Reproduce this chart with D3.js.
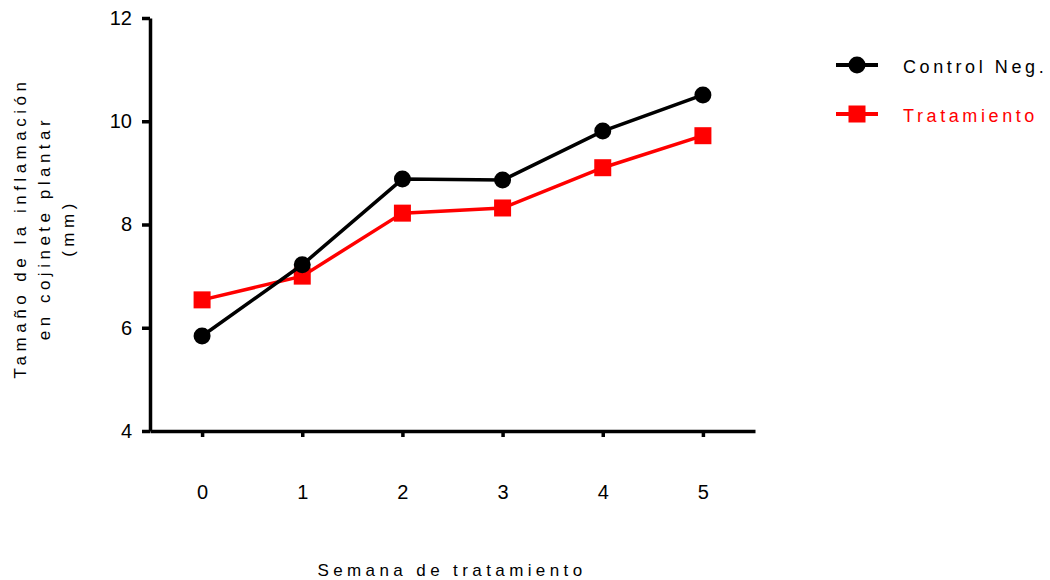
<!DOCTYPE html>
<html>
<head>
<meta charset="utf-8">
<script src="https://cdn.jsdelivr.net/npm/d3@7"></script>
<style>
  body { margin: 0; background: #fff; }
  text { font-family: "Liberation Sans", Arial, sans-serif; }
</style>
</head>
<body>
<div id="chart"></div>
<script>
// data
var weeks = [0, 1, 2, 3, 4, 5];
var controlNeg = [5.84, 7.22, 8.88, 8.86, 9.81, 10.51];
var tratamiento = [6.54, 7.0, 8.22, 8.32, 9.10, 9.72];
var yTicks = [4, 6, 8, 10, 12];
var seriesNames = ["Control Neg.", "Tratamiento"];

var margin = { left: 150, top: 18, right: 295, bottom: 149 };
var width = 1050 - margin.left - margin.right;
var height = 580 - margin.top - margin.bottom;

var svg = d3.select("#chart").append("svg")
  .attr("width", 1050)
  .attr("height", 580);

var g = svg.append("g")
  .attr("transform", "translate(" + margin.left + "," + margin.top + ")");

var x = d3.scaleLinear().domain([-0.52, 5.52]).range([0, width]);
var y = d3.scaleLinear().domain([4, 12]).range([height, 0]);

// Y axis
var yAxis = g.append("g")
  .call(d3.axisLeft(y).tickValues(yTicks).tickSize(8).tickSizeOuter(0).tickPadding(10));
yAxis.select(".domain").attr("stroke-width", 3.5);
yAxis.selectAll(".tick line").attr("stroke-width", 3.5);
yAxis.selectAll(".tick text")
  .attr("font-size", "20px")
  .attr("fill", "#000");

// X axis
var xAxis = g.append("g")
  .attr("transform", "translate(0," + height + ")")
  .call(d3.axisBottom(x).tickValues(weeks).tickSize(6).tickSizeOuter(0).tickPadding(48)
    .tickFormat(d3.format("d")));
xAxis.select(".domain").attr("stroke-width", 3.5);
xAxis.selectAll(".tick line").attr("stroke-width", 3.5);
xAxis.selectAll(".tick text")
  .attr("font-size", "20px")
  .attr("fill", "#000");

// Lines
var line = d3.line()
  .x(function(d, i) { return x(weeks[i]); })
  .y(function(d) { return y(d); });

g.append("path")
  .datum(tratamiento)
  .attr("fill", "none")
  .attr("stroke", "#ff0000")
  .attr("stroke-width", 3.5)
  .attr("d", line);

g.selectAll(".sq")
  .data(tratamiento)
  .enter().append("rect")
  .attr("class", "sq")
  .attr("x", function(d, i) { return x(weeks[i]) - 8.5; })
  .attr("y", function(d) { return y(d) - 8.5; })
  .attr("width", 17)
  .attr("height", 17)
  .attr("fill", "#ff0000");

g.append("path")
  .datum(controlNeg)
  .attr("fill", "none")
  .attr("stroke", "#000")
  .attr("stroke-width", 3.5)
  .attr("d", line);

g.selectAll(".dot")
  .data(controlNeg)
  .enter().append("circle")
  .attr("class", "dot")
  .attr("cx", function(d, i) { return x(weeks[i]); })
  .attr("cy", function(d) { return y(d); })
  .attr("r", 8.5)
  .attr("fill", "#000");

// X label
svg.append("text")
  .attr("x", 452)
  .attr("y", 576)
  .attr("text-anchor", "middle")
  .attr("font-size", "17px")
  .attr("letter-spacing", "4.4px")
  .text("Semana de tratamiento");

// Y label (three lines, rotated)
var yLabelLines = ["Tamaño de la inflamación", "en cojinete plantar", "(mm)"];
svg.append("g")
  .attr("transform", "translate(26,228) rotate(-90)")
  .selectAll("text")
  .data(yLabelLines)
  .enter().append("text")
  .attr("x", 0)
  .attr("y", function(d, i) { return i * 24; })
  .attr("text-anchor", "middle")
  .attr("font-size", "17px")
  .attr("letter-spacing", "4.5px")
  .text(function(d) { return d; });

// Legend
var legend = svg.append("g").attr("transform", "translate(836,65)");
var colors = ["#000", "#ff0000"];
seriesNames.forEach(function(name, i) {
  var row = legend.append("g").attr("transform", "translate(0," + i * 49 + ")");
  row.append("line")
    .attr("x1", 0).attr("x2", 42)
    .attr("stroke", colors[i])
    .attr("stroke-width", 4);
  if (i === 0) {
    row.append("circle").attr("cx", 21).attr("r", 8.5).attr("fill", colors[i]);
  } else {
    row.append("rect").attr("x", 12.5).attr("y", -8.5).attr("width", 17).attr("height", 17).attr("fill", colors[i]);
  }
  row.append("text")
    .attr("x", 67)
    .attr("y", 8)
    .attr("font-size", "18px")
    .attr("letter-spacing", "3.6px")
    .attr("fill", colors[i])
    .text(name);
});
</script>
</body>
</html>
